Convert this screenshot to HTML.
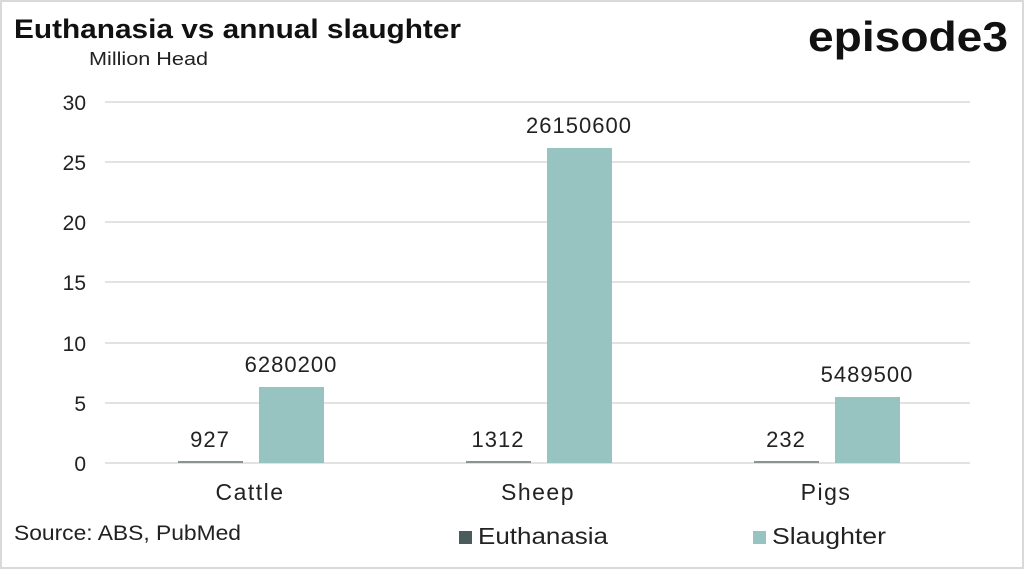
<!DOCTYPE html>
<html><head><meta charset="utf-8"><style>
html,body{margin:0;padding:0;background:#fff;}
svg{display:block;font-family:"Liberation Sans",sans-serif;}
</style></head><body>
<svg width="1024" height="569" viewBox="0 0 1024 569" xmlns="http://www.w3.org/2000/svg">
<rect x="1" y="1" width="1022" height="567" fill="#fff" stroke="#d9d9d9" stroke-width="2"/>
<text x="14" y="38" font-size="27" font-weight="bold" fill="#111" textLength="447" lengthAdjust="spacingAndGlyphs">Euthanasia vs annual slaughter</text>
<text x="1008" y="51" font-size="42" font-weight="bold" fill="#111" text-anchor="end" textLength="200" lengthAdjust="spacingAndGlyphs">episode3</text>
<text x="89" y="65" font-size="18" fill="#222" textLength="119" lengthAdjust="spacingAndGlyphs">Million Head</text>
<g stroke="#d9d9d9" stroke-width="1.5">
<line x1="105" y1="102" x2="970" y2="102"/>
<line x1="105" y1="162" x2="970" y2="162"/>
<line x1="105" y1="222" x2="970" y2="222"/>
<line x1="105" y1="282" x2="970" y2="282"/>
<line x1="105" y1="343" x2="970" y2="343"/>
<line x1="105" y1="403" x2="970" y2="403"/>
<line x1="105" y1="463" x2="970" y2="463"/>
</g>
<g font-size="21" fill="#222" text-anchor="end">
<text x="86" y="110">30</text><text x="86" y="170">25</text><text x="86" y="230">20</text>
<text x="86" y="290">15</text><text x="86" y="351">10</text><text x="86" y="411">5</text><text x="86" y="471">0</text>
</g>
<g fill="#97c3c1">
<rect x="259" y="387" width="65" height="76"/>
<rect x="547" y="148" width="65" height="315"/>
<rect x="835" y="397" width="65" height="66"/>
</g>
<g fill="#8a9494">
<rect x="178" y="461" width="65" height="2"/>
<rect x="466" y="461" width="65" height="2"/>
<rect x="754" y="461" width="65" height="2"/>
</g>
<g font-size="22" fill="#222" text-anchor="middle" letter-spacing="1">
<text x="210" y="447">927</text><text x="291" y="372">6280200</text>
<text x="498" y="447">1312</text><text x="579" y="133">26150600</text>
<text x="786" y="447">232</text><text x="867" y="382">5489500</text>
</g>
<g font-size="23" fill="#222" text-anchor="middle" letter-spacing="1.5">
<text x="250" y="500">Cattle</text><text x="538" y="500">Sheep</text><text x="826" y="500">Pigs</text>
</g>
<text x="14" y="540" font-size="21" fill="#222" textLength="227" lengthAdjust="spacingAndGlyphs">Source: ABS, PubMed</text>
<rect x="459" y="531" width="13" height="13" fill="#4c5c5c"/>
<text x="478" y="544" font-size="23" fill="#222" textLength="130" lengthAdjust="spacingAndGlyphs">Euthanasia</text>
<rect x="753" y="531" width="13" height="13" fill="#97c3c1"/>
<text x="772" y="544" font-size="23" fill="#222" textLength="114" lengthAdjust="spacingAndGlyphs">Slaughter</text>
</svg>
</body></html>
